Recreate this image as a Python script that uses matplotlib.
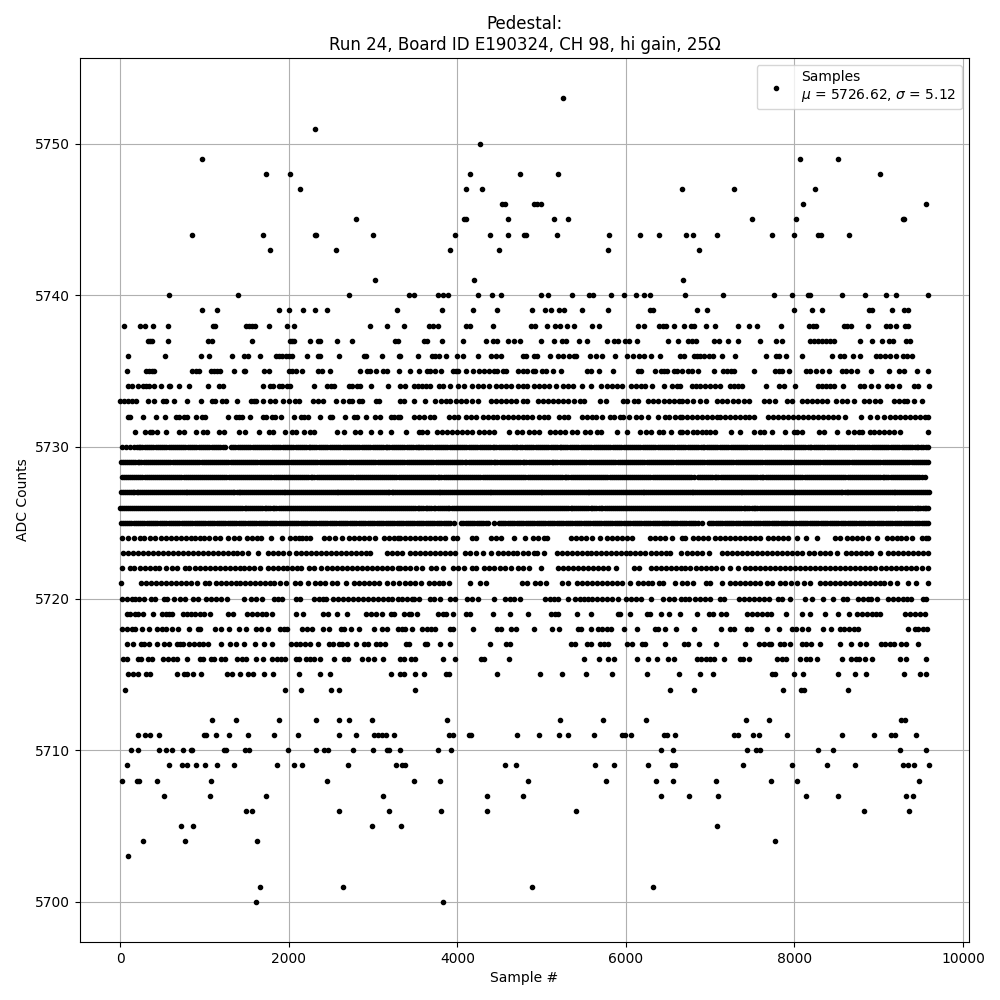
import matplotlib
matplotlib.use("Agg")
import matplotlib.pyplot as plt

# sample numbers, one list per ADC level
s5700 = [1604, 3824]
s5701 = [1652, 2637, 4880, 6317]
s5703 = [85]
s5704 = [263, 761, 1616, 7765]
s5705 = [714, 856, 2981, 3329, 7076]
s5706 = [1486, 1557, 2589, 3183, 3800, 4346, 5402, 8821, 9356]
s5707 = [512, 1058, 1734, 3112, 4346, 4773, 6411, 6744, 7088, 8133, 8513, 9320, 9403]
s5708 = [13, 191, 215, 429, 1070, 2447, 3479, 3788, 4833, 5759, 6352, 6554, 7064, 7717, 8026, 9474]
s5709 = [73, 571, 726, 785, 892, 999, 1141, 1343, 1853, 2055, 2150, 2696, 3266, 3341, 3376, 4560, 4690, 5628,
         5853, 6257, 6542, 6578, 7385, 7967, 8382, 8714, 9284, 9344, 9415, 9593]
s5710 = [120, 203, 453, 536, 607, 738, 832, 844, 1224, 1248, 1473, 1521, 1984, 2317, 2411, 2459, 2756, 2993,
         3159, 3183, 3321, 3764, 3930, 6411, 6554, 7432, 7539, 7587, 8275, 8453, 9249, 9557]
s5711 = [203, 286, 346, 464, 987, 1011, 1129, 1284, 1509, 1818, 2103, 2589, 2791, 3005, 3053, 3100, 3147, 3243,
         3895, 3942, 4132, 4156, 4702, 4963, 5201, 5307, 5616, 5948, 5984, 6055, 6447, 6483, 6578, 7278, 7326,
         7504, 7575, 7907, 8560, 8940, 9142, 9189, 9439]
s5712 = [1082, 1367, 1877, 2317, 2589, 2708, 2981, 3871, 5212, 5723, 6233, 7421, 7694, 9261, 9308]
s5714 = [49, 1948, 2138, 2495, 2589, 3491, 6518, 6803, 7860, 8073, 8109, 8631]
s5715 = [85, 144, 203, 298, 346, 666, 749, 796, 856, 951, 1260, 1319, 1414, 1509, 1569, 1710, 1806, 2115, 2364,
         2483, 3207, 3314, 3361, 3491, 3598, 3859, 3895, 4476, 4975, 5236, 5521, 5830, 6245, 6625, 6875, 7029,
         7729, 7773, 7990, 8097, 8513, 8714, 8845, 9296, 9486, 9557]
s5716 = [25, 73, 203, 239, 322, 370, 500, 559, 619, 666, 785, 939, 986, 1070, 1106, 1189, 1236, 1378, 1438, 1486,
         1604, 1687, 1794, 1853, 1901, 1948, 2079, 2115, 2198, 2245, 2293, 2364, 2530, 2649, 2696, 2862, 2934,
         3005, 3112, 3314, 3361, 3444, 3491, 3824, 3966, 4275, 4310, 4607, 5497, 5683, 5782, 5853, 6127, 6257,
         6364, 6494, 6566, 6839, 6886, 6946, 6993, 7041, 7159, 7349, 7385, 7456, 7789, 7848, 7895, 8062, 8133,
         8180, 8263, 8560, 8667, 8726, 8762, 8833, 8916, 9249, 9320, 9557]
s5717 = [73, 144, 239, 275, 334, 429, 512, 571, 666, 702, 738, 820, 868, 927, 986, 1034, 1189, 1295, 1367, 1462,
         1593, 1710, 1794, 2020, 2079, 2127, 2186, 2245, 2340, 2471, 2518, 2589, 2625, 2684, 2799, 2886, 2934,
         3029, 3076, 3135, 3384, 3420, 3610, 3645, 3788, 3907, 4382, 4571, 4619, 5343, 5391, 5533, 5580, 5687,
         5735, 5782, 6008, 6067, 6186, 6222, 6467, 6685, 6732, 6863, 7064, 7409, 7575, 7634, 7694, 7721, 7824,
         7872, 7943, 8085, 8133, 8192, 8299, 8536, 8667, 8774, 8845, 9023, 9071, 9130, 9178, 9261, 9320, 9462]
s5718 = [17, 77, 136, 176, 251, 334, 429, 488, 547, 607, 678, 820, 916, 939, 1118, 1189, 1284, 1402, 1486, 1604,
         1663, 1746, 1889, 1937, 1972, 2150, 2210, 2269, 2400, 2471, 2613, 2649, 2732, 2827, 3005, 3100, 3159,
         3290, 3341, 3380, 3467, 3574, 3645, 3681, 3729, 3907, 3942, 4191, 4465, 4512, 4631, 4690, 4904, 5117,
         5201, 5426, 5462, 5580, 5664, 5711, 5770, 5818, 5972, 6127, 6340, 6376, 6459, 6590, 6803, 7124, 7231,
         7278, 7432, 7480, 7670, 7812, 7967, 8014, 8085, 8157, 8335, 8430, 8536, 8584, 8643, 8703, 8750, 9344,
         9427, 9462, 9522, 9569]
s5719 = [77, 116, 176, 203, 263, 381, 488, 536, 571, 607, 738, 785, 840, 888, 947, 995, 1066, 1272, 1331, 1497,
         1557, 1616, 1675, 1734, 1794, 2079, 2162, 2400, 2459, 2566, 2684, 2910, 2969, 3029, 3100, 3207, 3243,
         3361, 3420, 3448, 3515, 3764, 3824, 3859, 3942, 4108, 4144, 4417, 4619, 4833, 5106, 5153, 5189, 5414,
         5580, 5901, 5925, 6043, 6245, 6281, 6411, 6506, 6637, 6839, 6981, 7029, 7124, 7183, 7432, 7492, 7551,
         7610, 7670, 7721, 7895, 8085, 8180, 8358, 8513, 8643, 8738, 8798, 8857, 8916, 8964, 9011, 9308, 9367,
         9427, 9486, 9546]
s5720 = [17, 77, 136, 176, 215, 275, 362, 405, 512, 552, 631, 702, 769, 860, 916, 1019, 1078, 1137, 1193, 1260,
         1462, 1549, 1608, 1680, 1827, 1869, 1917, 2079, 2127, 2301, 2352, 2400, 2443, 2522, 2578, 2637, 2696,
         2756, 2815, 2874, 2934, 2993, 3053, 3112, 3171, 3227, 3290, 3341, 3400, 3459, 3487, 3539, 3677, 3717,
         3788, 3915, 3974, 4112, 4172, 4239, 4429, 4567, 4619, 4666, 4738, 5042, 5094, 5141, 5189, 5307, 5399,
         5450, 5497, 5545, 5596, 5656, 5715, 5774, 5834, 5901, 6000, 6059, 6119, 6178, 6293, 6435, 6506, 6566,
         6649, 6696, 6744, 6823, 6882, 6942, 7001, 7112, 7159, 7337, 7397, 7456, 7516, 7575, 7634, 7694, 7800,
         7852, 7951, 8121, 8204, 8335, 8453, 8572, 8624, 8750, 8810, 8869, 8908, 8980, 9106, 9166, 9225, 9284,
         9336, 9379, 9522, 9557]
s5721 = [10, 243, 302, 362, 421, 480, 540, 599, 658, 718, 777, 836, 908, 1007, 1054, 1133, 1193, 1252, 1311, 1371,
         1422, 1477, 1537, 1596, 1656, 1715, 1774, 1826, 1889, 1960, 2075, 2134, 2222, 2305, 2364, 2431, 2510,
         2570, 2677, 2767, 2827, 2886, 2945, 3005, 3064, 3163, 3234, 3302, 3380, 3440, 3499, 3570, 3657, 3717,
         3776, 3835, 3899, 4144, 4271, 4342, 4765, 4824, 4924, 4983, 5050, 5240, 5311, 5418, 5478, 5537, 5596,
         5656, 5715, 5774, 5834, 5893, 5952, 6043, 6138, 6198, 6257, 6309, 6388, 6439, 6585, 6665, 6724, 6795,
         6954, 7001, 7136, 7239, 7298, 7357, 7417, 7476, 7535, 7595, 7674, 7737, 7832, 7884, 7959, 8030, 8117,
         8188, 8299, 8358, 8418, 8477, 8536, 8596, 8655, 8714, 8774, 8833, 8892, 8952, 9011, 9067, 9130, 9217,
         9344, 9447, 9581]
s5722 = [17, 108, 167, 227, 286, 346, 405, 464, 536, 611, 670, 769, 820, 880, 939, 999, 1058, 1118, 1177, 1236,
         1295, 1355, 1414, 1470, 1529, 1589, 1660, 1750, 1810, 1869, 1929, 1976, 2036, 2095, 2142, 2233, 2293,
         2380, 2451, 2510, 2570, 2629, 2688, 2748, 2807, 2866, 2926, 2985, 3045, 3104, 3163, 3223, 3290, 3321,
         3380, 3440, 3507, 3578, 3685, 3748, 3835, 3942, 4002, 4073, 4172, 4223, 4310, 4370, 4429, 4508, 4567,
         4635, 4714, 4773, 4844, 4987, 5193, 5252, 5311, 5371, 5430, 5489, 5549, 5608, 5667, 5727, 5782, 5877,
         6091, 6150, 6297, 6356, 6415, 6475, 6534, 6593, 6653, 6704, 6756, 6835, 6894, 6954, 7013, 7072, 7140,
         7231, 7326, 7417, 7476, 7535, 7595, 7654, 7713, 7773, 7832, 7891, 7951, 8010, 8070, 8129, 8188, 8248,
         8307, 8366, 8426, 8485, 8544, 8604, 8663, 8722, 8782, 8841, 8900, 8960, 9031, 9090, 9150, 9209, 9269,
         9328, 9387, 9447, 9514, 9589]
s5723 = [29, 89, 148, 207, 267, 326, 385, 445, 504, 563, 623, 682, 741, 801, 860, 919, 979, 1038, 1098, 1157, 1216,
         1276, 1335, 1383, 1438, 1509, 1632, 1750, 1810, 1869, 1929, 2000, 2083, 2142, 2202, 2261, 2321, 2380,
         2439, 2499, 2558, 2617, 2677, 2736, 2795, 2855, 2914, 2957, 3163, 3223, 3282, 3341, 3432, 3499, 3558,
         3618, 3677, 3736, 3796, 3855, 3915, 3974, 4093, 4152, 4223, 4302, 4397, 4480, 4540, 4599, 4658, 4706,
         4773, 4840, 4904, 4943, 5030, 5181, 5240, 5300, 5359, 5418, 5478, 5537, 5585, 5644, 5703, 5762, 5822,
         5881, 5941, 6000, 6051, 6111, 6170, 6229, 6297, 6356, 6415, 6475, 6518, 6653, 6724, 6784, 6843, 6902,
         6981, 7140, 7199, 7258, 7318, 7377, 7436, 7496, 7555, 7614, 7674, 7733, 7793, 7852, 7911, 7970, 8030,
         8089, 8168, 8228, 8307, 8366, 8426, 8505, 8616, 8675, 8734, 8794, 8853, 8912, 9019, 9114, 9174, 9233,
         9292, 9352, 9411, 9470, 9530, 9581]
s5724 = [17, 96, 156, 227, 275, 354, 413, 480, 540, 599, 658, 718, 777, 836, 884, 939, 991, 1054, 1121, 1185, 1280,
         1351, 1406, 1505, 1564, 1620, 1672, 1782, 1913, 2016, 2075, 2115, 2154, 2205, 2253, 2419, 2478, 2550,
         2629, 2708, 2767, 2827, 2886, 2945, 3017, 3124, 3183, 3243, 3290, 3321, 3380, 3440, 3499, 3558, 3618,
         3677, 3736, 3796, 3847, 3942, 3994, 4172, 4223, 4397, 4461, 4520, 4666, 4797, 4892, 4951, 5023, 5066,
         5347, 5406, 5466, 5525, 5596, 5695, 5774, 5834, 5893, 5952, 6012, 6071, 6289, 6348, 6407, 6467, 6546,
         6665, 6704, 6795, 6851, 6914, 6969, 7053, 7112, 7171, 7231, 7290, 7349, 7409, 7468, 7527, 7595, 7682,
         7741, 7800, 7860, 7919, 8034, 8137, 8271, 8477, 8536, 8624, 8683, 8742, 8802, 8869, 8980, 9098, 9158,
         9217, 9264, 9328, 9391, 9510, 9561, 9590]
s5725 = [3, 28, 52, 77, 101, 130, 158, 182, 206, 233, 259, 285, 311, 335, 358, 385, 412, 440, 467, 491, 515, 544, 572,
         597, 621, 645, 668, 698, 727, 750, 774, 802, 829, 855, 881, 907, 933, 955, 978, 1007, 1036, 1060, 1085, 1113,
         1142, 1167, 1191, 1218, 1246, 1272, 1298, 1324, 1349, 1376, 1403, 1428, 1452, 1481, 1511, 1535, 1558, 1585,
         1612, 1640, 1669, 1693, 1718, 1745, 1773, 1797, 1821, 1850, 1878, 1902, 1927, 1955, 1982, 2008, 2034, 2061,
         2088, 2113, 2139, 2165, 2191, 2219, 2247, 2271, 2296, 2324, 2352, 2380, 2401, 2430, 2458, 2484, 2509, 2536,
         2563, 2590, 2618, 2642, 2667, 2695, 2722, 2747, 2771, 2800, 2829, 2855, 2880, 2907, 2934, 2960, 2986, 3013,
         3041, 3066, 3092, 3120, 3148, 3172, 3197, 3225, 3253, 3279, 3304, 3331, 3359, 3385, 3411, 3436, 3462, 3490,
         3518, 3542, 3567, 3596, 3625, 3650, 3674, 3701, 3728, 3755, 3781, 3808, 3836, 3860, 3885, 3912, 3954, 4045,
         4071, 4098, 4125, 4151, 4177, 4203, 4231, 4259, 4283, 4308, 4336, 4365, 4440, 4490, 4516, 4543, 4570, 4598,
         4622, 4647, 4675, 4704, 4728, 4753, 4781, 4809, 4834, 4860, 4886, 4913, 4940, 4968, 4992, 5017, 5045, 5074,
         5098, 5123, 5151, 5180, 5204, 5229, 5257, 5286, 5311, 5337, 5364, 5391, 5417, 5443, 5470, 5497, 5522, 5548,
         5576, 5604, 5628, 5653, 5681, 5710, 5735, 5761, 5788, 5816, 5841, 5866, 5893, 5921, 5947, 5973, 6000, 6028,
         6053, 6079, 6107, 6135, 6159, 6184, 6212, 6241, 6266, 6292, 6319, 6347, 6372, 6398, 6425, 6452, 6478, 6505,
         6531, 6558, 6584, 6611, 6637, 6664, 6690, 6717, 6744, 6771, 6797, 6824, 6858, 6898, 6985, 7011, 7038, 7065,
         7092, 7117, 7143, 7171, 7199, 7224, 7250, 7277, 7304, 7330, 7357, 7386, 7411, 7436, 7462, 7490, 7518, 7542,
         7567, 7595, 7624, 7649, 7675, 7702, 7729, 7755, 7782, 7809, 7836, 7861, 7887, 7915, 7943, 7967, 7992, 8020,
         8049, 8074, 8100, 8127, 8155, 8180, 8206, 8233, 8261, 8286, 8312, 8340, 8368, 8392, 8417, 8445, 8474, 8498,
         8523, 8551, 8580, 8605, 8631, 8658, 8686, 8711, 8737, 8765, 8793, 8817, 8842, 8870, 8899, 8924, 8950, 8977,
         9005, 9030, 9056, 9083, 9111, 9136, 9162, 9190, 9218, 9243, 9269, 9296, 9324, 9349, 9375, 9402, 9430, 9455,
         9481, 9509, 9537, 9563, 9590]
s5726 = [1, 22, 44, 68, 92, 114, 137, 162, 188, 209, 231, 256, 282, 304, 326, 351, 377, 399, 421, 446, 472, 495, 518,
         541, 565, 589, 613, 635, 658, 683, 709, 731, 754, 778, 803, 826, 849, 873, 898, 922, 947, 969, 992, 1017, 1043,
         1065, 1088, 1112, 1137, 1160, 1184, 1207, 1231, 1256, 1281, 1303, 1326, 1351, 1377, 1399, 1422, 1447, 1473,
         1495, 1518, 1542, 1567, 1590, 1614, 1637, 1662, 1686, 1711, 1733, 1756, 1781, 1807, 1829, 1852, 1877, 1903,
         1925, 1948, 1972, 1997, 2020, 2044, 2068, 2092, 2116, 2141, 2163, 2186, 2211, 2237, 2259, 2282, 2307, 2333,
         2355, 2378, 2402, 2427, 2450, 2474, 2498, 2522, 2546, 2571, 2593, 2616, 2641, 2667, 2689, 2712, 2737, 2763,
         2785, 2808, 2832, 2857, 2880, 2904, 2928, 2952, 2976, 3001, 3023, 3046, 3071, 3097, 3119, 3142, 3165, 3193,
         3215, 3238, 3262, 3287, 3310, 3334, 3358, 3382, 3406, 3431, 3453, 3476, 3501, 3527, 3549, 3572, 3597, 3623,
         3645, 3668, 3692, 3717, 3740, 3764, 3788, 3812, 3836, 3861, 3883, 3906, 3931, 3957, 3979, 4002, 4027, 4053,
         4075, 4098, 4122, 4147, 4170, 4194, 4218, 4242, 4266, 4291, 4313, 4336, 4361, 4387, 4409, 4432, 4457, 4483,
         4505, 4528, 4552, 4577, 4600, 4624, 4648, 4672, 4696, 4721, 4743, 4766, 4791, 4817, 4839, 4862, 4887, 4913,
         4935, 4958, 4982, 5007, 5030, 5054, 5078, 5102, 5126, 5151, 5173, 5196, 5221, 5247, 5269, 5292, 5317, 5343,
         5365, 5388, 5412, 5437, 5460, 5484, 5508, 5532, 5556, 5581, 5603, 5626, 5651, 5677, 5699, 5722, 5747, 5773,
         5795, 5818, 5842, 5867, 5890, 5914, 5938, 5962, 5986, 6011, 6033, 6056, 6081, 6107, 6129, 6152, 6177, 6203,
         6225, 6248, 6272, 6297, 6320, 6344, 6368, 6392, 6416, 6441, 6463, 6486, 6511, 6537, 6559, 6582, 6607, 6633,
         6655, 6678, 6702, 6727, 6750, 6774, 6798, 6822, 6846, 6871, 6893, 6916, 6941, 6967, 6989, 7012, 7037, 7063,
         7085, 7108, 7132, 7157, 7180, 7204, 7228, 7252, 7276, 7301, 7323, 7346, 7371, 7397, 7419, 7442, 7467, 7493,
         7515, 7538, 7562, 7587, 7610, 7634, 7658, 7682, 7706, 7731, 7753, 7776, 7801, 7827, 7849, 7872, 7897, 7923,
         7945, 7968, 7992, 8017, 8040, 8064, 8088, 8112, 8136, 8161, 8183, 8206, 8231, 8257, 8279, 8302, 8327, 8353,
         8375, 8398, 8422, 8447, 8470, 8494, 8518, 8542, 8566, 8591, 8613, 8636, 8661, 8687, 8709, 8732, 8757, 8783,
         8805, 8828, 8852, 8877, 8900, 8924, 8948, 8972, 8996, 9021, 9043, 9066, 9091, 9117, 9139, 9162, 9187, 9213,
         9235, 9258, 9282, 9307, 9330, 9354, 9378, 9402, 9426, 9451, 9473, 9496, 9521, 9547, 9568, 9590]
s5727 = [7, 29, 51, 74, 98, 121, 144, 167, 191, 214, 238, 260, 283, 307, 331, 353, 376, 400, 424, 446, 469, 493, 517,
         540, 563, 586, 609, 633, 657, 679, 702, 726, 750, 773, 796, 819, 842, 866, 889, 912, 936, 959, 983, 1005, 1028,
         1052, 1076, 1098, 1121, 1145, 1169, 1191, 1214, 1238, 1262, 1285, 1308, 1331, 1354, 1378, 1402, 1424, 1447,
         1471, 1495, 1518, 1541, 1564, 1587, 1610, 1634, 1657, 1681, 1704, 1728, 1750, 1773, 1797, 1821, 1843, 1866,
         1890, 1914, 1936, 1959, 1983, 2007, 2030, 2053, 2076, 2099, 2123, 2147, 2169, 2192, 2216, 2240, 2263, 2286,
         2309, 2332, 2355, 2379, 2402, 2426, 2449, 2473, 2495, 2518, 2542, 2566, 2588, 2611, 2635, 2659, 2681, 2704,
         2728, 2752, 2775, 2798, 2821, 2844, 2868, 2892, 2914, 2937, 2961, 2985, 3008, 3031, 3054, 3077, 3100, 3124,
         3147, 3171, 3194, 3218, 3240, 3263, 3287, 3311, 3333, 3356, 3380, 3404, 3426, 3449, 3473, 3497, 3520, 3543,
         3566, 3589, 3613, 3637, 3659, 3682, 3706, 3730, 3753, 3776, 3799, 3822, 3845, 3869, 3892, 3916, 3939, 3963,
         3985, 4008, 4032, 4056, 4078, 4101, 4125, 4149, 4171, 4194, 4218, 4242, 4265, 4288, 4311, 4334, 4358, 4382,
         4404, 4427, 4451, 4475, 4498, 4521, 4544, 4567, 4590, 4614, 4637, 4661, 4684, 4708, 4730, 4753, 4777, 4801,
         4823, 4846, 4870, 4894, 4916, 4939, 4963, 4987, 5010, 5033, 5056, 5079, 5103, 5127, 5149, 5172, 5196, 5220,
         5243, 5266, 5289, 5312, 5335, 5359, 5382, 5406, 5429, 5453, 5475, 5498, 5522, 5546, 5568, 5591, 5615, 5639,
         5661, 5684, 5708, 5732, 5755, 5778, 5801, 5824, 5848, 5872, 5894, 5917, 5941, 5965, 5988, 6011, 6034, 6057,
         6080, 6104, 6127, 6151, 6174, 6198, 6220, 6243, 6267, 6291, 6313, 6336, 6360, 6384, 6406, 6429, 6453, 6477,
         6500, 6523, 6546, 6569, 6593, 6617, 6639, 6662, 6686, 6710, 6733, 6756, 6779, 6802, 6825, 6849, 6872, 6896,
         6919, 6943, 6965, 6988, 7012, 7036, 7058, 7081, 7105, 7129, 7151, 7174, 7198, 7222, 7245, 7268, 7291, 7314,
         7338, 7362, 7384, 7407, 7431, 7455, 7478, 7501, 7524, 7547, 7570, 7594, 7617, 7641, 7664, 7688, 7710, 7733,
         7757, 7781, 7803, 7826, 7850, 7874, 7896, 7919, 7943, 7967, 7990, 8013, 8036, 8059, 8083, 8107, 8129, 8152,
         8176, 8200, 8223, 8246, 8269, 8292, 8315, 8339, 8362, 8386, 8409, 8433, 8455, 8478, 8502, 8526, 8548, 8571,
         8595, 8619, 8641, 8664, 8688, 8712, 8735, 8758, 8781, 8804, 8828, 8852, 8874, 8897, 8921, 8945, 8968, 8991,
         9014, 9037, 9060, 9084, 9107, 9131, 9154, 9178, 9200, 9223, 9247, 9271, 9293, 9316, 9340, 9364, 9386, 9409,
         9433, 9457, 9480, 9503, 9526, 9549, 9571, 9592]
s5728 = [18, 42, 66, 91, 117, 140, 163, 188, 214, 238, 262, 286, 311, 334, 358, 382, 406, 431, 457, 480, 503, 528, 554,
         577, 601, 626, 652, 675, 698, 723, 749, 773, 797, 821, 846, 869, 893, 917, 941, 966, 992, 1015, 1038, 1063,
         1089, 1112, 1136, 1161, 1187, 1210, 1233, 1258, 1284, 1308, 1332, 1356, 1381, 1404, 1428, 1452, 1476, 1501,
         1527, 1550, 1573, 1598, 1624, 1647, 1671, 1696, 1722, 1745, 1768, 1793, 1819, 1843, 1867, 1891, 1916, 1939,
         1963, 1987, 2011, 2036, 2062, 2085, 2108, 2133, 2159, 2182, 2206, 2231, 2257, 2280, 2303, 2328, 2354, 2378,
         2402, 2426, 2451, 2474, 2498, 2522, 2546, 2571, 2597, 2620, 2643, 2668, 2694, 2717, 2741, 2766, 2792, 2815,
         2838, 2863, 2889, 2913, 2937, 2961, 2986, 3009, 3033, 3057, 3081, 3106, 3132, 3155, 3178, 3203, 3229, 3252,
         3276, 3301, 3327, 3350, 3373, 3398, 3424, 3448, 3472, 3496, 3521, 3544, 3568, 3592, 3616, 3641, 3667, 3690,
         3713, 3738, 3764, 3787, 3811, 3836, 3862, 3885, 3908, 3933, 3959, 3983, 4007, 4031, 4056, 4079, 4103, 4127,
         4151, 4176, 4202, 4225, 4248, 4273, 4299, 4322, 4346, 4371, 4397, 4420, 4443, 4468, 4494, 4518, 4542, 4566,
         4591, 4614, 4638, 4662, 4686, 4711, 4737, 4760, 4783, 4808, 4834, 4857, 4881, 4906, 4932, 4955, 4978, 5003,
         5029, 5053, 5077, 5101, 5126, 5149, 5173, 5197, 5221, 5246, 5272, 5295, 5318, 5343, 5369, 5392, 5416, 5441,
         5467, 5490, 5513, 5538, 5564, 5588, 5612, 5636, 5661, 5684, 5708, 5732, 5756, 5781, 5807, 5830, 5853, 5878,
         5904, 5927, 5951, 5976, 6002, 6025, 6048, 6073, 6099, 6123, 6147, 6171, 6196, 6219, 6243, 6267, 6291, 6316,
         6342, 6365, 6388, 6413, 6439, 6462, 6486, 6511, 6537, 6560, 6583, 6608, 6634, 6658, 6682, 6706, 6731, 6754,
         6778, 6811, 6854, 6880, 6906, 6929, 6953, 6977, 7001, 7026, 7052, 7075, 7098, 7123, 7149, 7172, 7196, 7221,
         7247, 7270, 7293, 7318, 7344, 7368, 7392, 7416, 7441, 7464, 7488, 7512, 7536, 7561, 7587, 7610, 7633, 7658,
         7684, 7707, 7731, 7756, 7782, 7805, 7828, 7853, 7879, 7903, 7927, 7951, 7976, 7999, 8023, 8047, 8071, 8096,
         8122, 8145, 8168, 8193, 8219, 8242, 8266, 8291, 8317, 8340, 8363, 8388, 8414, 8438, 8462, 8486, 8511, 8534,
         8558, 8582, 8606, 8631, 8657, 8680, 8703, 8728, 8754, 8777, 8801, 8826, 8852, 8875, 8898, 8923, 8949, 8973,
         8997, 9021, 9046, 9069, 9093, 9117, 9141, 9166, 9192, 9215, 9238, 9263, 9289, 9312, 9336, 9361, 9387, 9410,
         9433, 9458, 9484, 9516, 9548]
s5729 = [6, 29, 53, 78, 104, 127, 151, 177, 203, 226, 249, 275, 301, 324, 348, 372, 397, 422, 448, 471, 495, 521, 547,
         570, 593, 619, 645, 668, 692, 716, 741, 766, 792, 815, 839, 865, 891, 914, 937, 963, 989, 1012, 1036, 1060,
         1085, 1110, 1136, 1159, 1183, 1209, 1235, 1258, 1281, 1307, 1333, 1356, 1380, 1404, 1429, 1454, 1480, 1503,
         1527, 1553, 1579, 1602, 1625, 1651, 1677, 1700, 1724, 1748, 1773, 1798, 1824, 1847, 1871, 1897, 1923, 1946,
         1969, 1995, 2021, 2044, 2068, 2092, 2117, 2142, 2168, 2191, 2215, 2241, 2267, 2290, 2313, 2339, 2365, 2388,
         2412, 2436, 2461, 2486, 2512, 2535, 2559, 2585, 2611, 2634, 2657, 2683, 2709, 2732, 2756, 2780, 2805, 2830,
         2856, 2879, 2903, 2929, 2955, 2978, 3001, 3027, 3053, 3076, 3100, 3124, 3149, 3174, 3200, 3223, 3247, 3273,
         3299, 3322, 3345, 3371, 3397, 3420, 3444, 3468, 3493, 3518, 3544, 3567, 3591, 3617, 3643, 3666, 3689, 3715,
         3741, 3764, 3788, 3812, 3837, 3862, 3888, 3911, 3935, 3961, 3987, 4010, 4033, 4059, 4085, 4108, 4132, 4156,
         4181, 4206, 4232, 4255, 4279, 4305, 4331, 4354, 4377, 4403, 4429, 4452, 4476, 4500, 4525, 4550, 4576, 4599,
         4623, 4649, 4675, 4698, 4721, 4747, 4773, 4796, 4820, 4844, 4869, 4894, 4920, 4943, 4967, 4993, 5019, 5042,
         5065, 5091, 5117, 5140, 5164, 5188, 5213, 5238, 5264, 5287, 5311, 5337, 5363, 5386, 5409, 5435, 5461, 5484,
         5508, 5532, 5557, 5582, 5608, 5631, 5655, 5681, 5707, 5730, 5753, 5779, 5805, 5828, 5852, 5876, 5901, 5926,
         5952, 5975, 5999, 6025, 6051, 6074, 6097, 6123, 6149, 6172, 6196, 6220, 6245, 6270, 6296, 6319, 6343, 6369,
         6395, 6418, 6441, 6467, 6493, 6516, 6540, 6564, 6589, 6614, 6640, 6663, 6687, 6713, 6739, 6762, 6785, 6811,
         6837, 6860, 6884, 6908, 6933, 6958, 6984, 7007, 7031, 7057, 7083, 7106, 7129, 7155, 7181, 7204, 7228, 7252,
         7277, 7302, 7328, 7351, 7375, 7401, 7427, 7450, 7473, 7499, 7525, 7548, 7572, 7596, 7621, 7646, 7672, 7695,
         7719, 7745, 7771, 7794, 7817, 7843, 7869, 7892, 7916, 7940, 7965, 7990, 8016, 8039, 8063, 8089, 8115, 8138,
         8161, 8187, 8213, 8236, 8260, 8284, 8309, 8334, 8360, 8383, 8407, 8433, 8459, 8482, 8505, 8531, 8557, 8580,
         8604, 8628, 8653, 8678, 8704, 8727, 8751, 8777, 8803, 8826, 8849, 8875, 8901, 8924, 8948, 8972, 8997, 9022,
         9048, 9071, 9095, 9121, 9147, 9170, 9193, 9219, 9245, 9268, 9292, 9316, 9341, 9366, 9392, 9415, 9439, 9465,
         9491, 9514, 9537, 9561, 9585]
s5730 = [18, 61, 108, 167, 192, 216, 238, 261, 290, 318, 340, 363, 392, 421, 444, 468, 492, 516, 545, 574, 596, 619,
         648, 677, 700, 722, 746, 771, 800, 829, 851, 874, 903, 932, 954, 977, 1001, 1026, 1055, 1084, 1106, 1129, 1158,
         1187, 1212, 1237, 1315, 1338, 1362, 1390, 1419, 1442, 1466, 1489, 1513, 1542, 1571, 1594, 1617, 1645, 1674,
         1697, 1720, 1744, 1768, 1797, 1826, 1849, 1872, 1900, 1929, 1952, 1975, 1998, 2022, 2051, 2081, 2106, 2132,
         2154, 2176, 2204, 2233, 2256, 2279, 2302, 2326, 2355, 2384, 2407, 2430, 2458, 2487, 2510, 2533, 2556, 2580,
         2609, 2638, 2661, 2684, 2712, 2741, 2764, 2787, 2811, 2835, 2864, 2893, 2915, 2938, 2967, 2996, 3019, 3042,
         3065, 3089, 3118, 3147, 3169, 3192, 3221, 3250, 3273, 3296, 3319, 3343, 3372, 3401, 3423, 3446, 3475, 3504,
         3527, 3550, 3573, 3597, 3626, 3655, 3678, 3701, 3729, 3758, 3781, 3804, 3827, 3851, 3880, 3909, 3932, 3955,
         3983, 4012, 4035, 4058, 4081, 4105, 4134, 4163, 4186, 4209, 4237, 4266, 4289, 4312, 4335, 4359, 4388, 4417,
         4440, 4463, 4491, 4520, 4543, 4567, 4590, 4614, 4643, 4672, 4692, 4712, 4748, 4772, 4797, 4826, 4855, 4878,
         4901, 4929, 4958, 4981, 5004, 5027, 5051, 5080, 5109, 5132, 5155, 5183, 5212, 5235, 5258, 5281, 5305, 5334,
         5363, 5386, 5409, 5437, 5466, 5489, 5512, 5535, 5559, 5588, 5617, 5640, 5663, 5691, 5720, 5743, 5766, 5789,
         5813, 5842, 5871, 5894, 5917, 5945, 5974, 5997, 6020, 6043, 6067, 6096, 6125, 6148, 6171, 6199, 6228, 6251,
         6274, 6297, 6321, 6350, 6379, 6402, 6425, 6453, 6482, 6505, 6528, 6551, 6575, 6604, 6633, 6656, 6679, 6707,
         6736, 6759, 6782, 6805, 6829, 6858, 6887, 6910, 6933, 6961, 6990, 7013, 7036, 7059, 7083, 7112, 7141, 7164,
         7187, 7215, 7244, 7267, 7290, 7313, 7337, 7366, 7395, 7418, 7441, 7469, 7498, 7521, 7544, 7567, 7591, 7620,
         7649, 7672, 7695, 7723, 7752, 7775, 7798, 7821, 7845, 7874, 7903, 7926, 7949, 7977, 8006, 8029, 8052, 8075,
         8099, 8128, 8157, 8180, 8203, 8231, 8260, 8283, 8306, 8329, 8353, 8382, 8411, 8434, 8457, 8485, 8514, 8537,
         8560, 8583, 8607, 8636, 8665, 8688, 8711, 8739, 8768, 8791, 8814, 8837, 8861, 8890, 8919, 8942, 8965, 8993,
         9022, 9045, 9068, 9091, 9115, 9144, 9173, 9196, 9219, 9247, 9276, 9299, 9322, 9345, 9369, 9398, 9427, 9450,
         9473, 9501, 9530, 9560, 9590]
s5731 = [168, 286, 346, 370, 440, 536, 690, 749, 892, 986, 1026, 1165, 1224, 1402, 1473, 1640, 1758, 1806, 1948,
         2032, 2079, 2174, 2245, 2293, 2566, 2649, 2779, 2839, 2969, 3076, 3207, 3384, 3539, 3578, 3638, 3756,
         3816, 3875, 3934, 3994, 4053, 4112, 4172, 4251, 4310, 4370, 4429, 4607, 4706, 4765, 4844, 4904, 4963,
         5102, 5161, 5220, 5280, 5359, 5418, 5517, 5577, 5656, 5707, 5893, 6008, 6162, 6241, 6297, 6388, 6439,
         6530, 6645, 6665, 6724, 6795, 6843, 6902, 6954, 7001, 7060, 7250, 7349, 7523, 7595, 7634, 7729, 7884,
         7990, 8030, 8089, 8287, 8346, 8501, 8631, 8711, 8762, 8802, 8893, 8940, 9000, 9059, 9118, 9178, 9249,
         9581]
s5732 = [85, 108, 263, 417, 524, 654, 690, 749, 785, 892, 963, 999, 1280, 1367, 1402, 1438, 1533, 1698, 1734, 1794,
         1830, 1901, 2055, 2138, 2174, 2222, 2364, 2483, 2507, 2660, 2767, 2803, 2910, 3017, 3076, 3207, 3243,
         3290, 3321, 3479, 3539, 3598, 3669, 3717, 3895, 3954, 4013, 4097, 4156, 4215, 4298, 4358, 4417, 4476,
         4536, 4595, 4655, 4714, 4773, 4832, 4880, 4963, 5023, 5070, 5201, 5260, 5307, 5474, 5533, 5592, 5651,
         5711, 5806, 5853, 5925, 5960, 6032, 6115, 6174, 6257, 6376, 6459, 6506, 6578, 6637, 6665, 6724, 6784,
         6843, 6902, 6961, 7021, 7080, 7120, 7180, 7239, 7298, 7357, 7417, 7456, 7523, 7688, 7747, 7807, 7866,
         7925, 7985, 8044, 8103, 8163, 8222, 8281, 8341, 8400, 8460, 8519, 8604, 8794, 8900, 8980, 9059, 9138,
         9198, 9257, 9317, 9376, 9436, 9495, 9555, 9585]
s5733 = [0, 37, 85, 140, 180, 322, 393, 500, 547, 642, 796, 951, 1082, 1118, 1200, 1248, 1378, 1545, 1580, 1604,
         1687, 1770, 1830, 1925, 1996, 2067, 2115, 2281, 2340, 2400, 2554, 2637, 2708, 2744, 2827, 2862, 3029,
         3064, 3321, 3372, 3479, 3610, 3740, 3800, 3859, 3918, 3978, 4037, 4097, 4168, 4239, 4393, 4453, 4512,
         4571, 4631, 4690, 4773, 4832, 4951, 5011, 5070, 5129, 5189, 5248, 5307, 5379, 5450, 5497, 5687, 5759,
         5960, 6012, 6091, 6138, 6257, 6317, 6376, 6447, 6506, 6566, 6625, 6665, 6724, 6795, 6882, 6954, 7080,
         7140, 7199, 7266, 7326, 7397, 7456, 7634, 7694, 7773, 7911, 7970, 8089, 8148, 8208, 8267, 8327, 8386,
         8497, 8564, 8624, 8703, 8821, 8881, 8960, 9019, 9178, 9237, 9296, 9336, 9415, 9514]
s5734 = [85, 132, 203, 263, 298, 334, 393, 476, 571, 587, 694, 820, 1034, 1165, 1212, 1698, 1770, 1806, 1877, 1913,
         1972, 2008, 2293, 2447, 2495, 2530, 2708, 2744, 2803, 2839, 2969, 3171, 3314, 3380, 3479, 3527, 3574,
         3622, 3677, 3776, 3835, 3907, 4002, 4073, 4168, 4239, 4298, 4370, 4453, 4512, 4571, 4631, 4714, 4773,
         4832, 4904, 4963, 5023, 5082, 5165, 5248, 5307, 5367, 5474, 5580, 5699, 5770, 5830, 5889, 5949, 6055,
         6115, 6174, 6222, 6305, 6447, 6542, 6601, 6645, 6780, 6835, 6882, 6942, 7001, 7060, 7120, 7231, 7278,
         7326, 7377, 7666, 7812, 7872, 8002, 8275, 8323, 8370, 8418, 8465, 8572, 8774, 8821, 8904, 8988, 9094,
         9154, 9237, 9415, 9462, 9593]
s5735 = [73, 298, 334, 370, 393, 844, 892, 927, 1070, 1106, 1141, 1177, 1343, 1462, 1475, 1710, 1758, 1996, 2032,
         2079, 2150, 2340, 2388, 2483, 2839, 2922, 2957, 3029, 3112, 3159, 3302, 3432, 3539, 3645, 3669, 3729,
         3800, 3942, 3978, 4013, 4097, 4180, 4251, 4310, 4370, 4429, 4469, 4536, 4571, 4714, 4773, 4832, 4892,
         4927, 4999, 5046, 5129, 5224, 5533, 5580, 5675, 5842, 6138, 6174, 6340, 6411, 6447, 6483, 6566, 6601,
         6665, 6732, 6780, 6851, 7041, 7148, 7199, 7246, 7278, 7516, 7765, 7812, 7848, 7931, 8133, 8180, 8252,
         8323, 8406, 8560, 8608, 8667, 8738, 8904, 9118, 9237, 9296, 9454, 9581]
s5736 = [96, 524, 951, 1046, 1319, 1462, 1509, 1651, 1841, 1877, 1913, 1960, 1996, 2032, 2210, 2340, 2364, 2589,
         2886, 2910, 3100, 3302, 3321, 3527, 3693, 3729, 3776, 3859, 3990, 4061, 4239, 4393, 4453, 4512, 4773,
         4809, 4904, 4939, 5094, 5189, 5248, 5319, 5379, 5402, 5569, 5640, 5711, 5865, 6008, 6079, 6150, 6210,
         6293, 6400, 6637, 6685, 6803, 6843, 6882, 6930, 6981, 7029, 7136, 7290, 7658, 7777, 7812, 7895, 8085,
         8441, 8536, 8584, 8691, 8774, 8964, 9019, 9071, 9130, 9201, 9284, 9336, 9391]
s5737 = [322, 346, 370, 559, 1034, 1082, 1557, 2008, 2032, 2055, 2245, 2340, 2364, 2566, 2744, 3254, 3290, 3598,
         3634, 3812, 4061, 4334, 4417, 4465, 4595, 4666, 4749, 4987, 5141, 5236, 5284, 5438, 5533, 5770, 5853,
         5901, 5984, 6032, 6127, 6494, 6613, 6732, 6780, 6827, 7041, 7100, 7207, 7326, 7587, 7777, 7848, 8180,
         8228, 8275, 8323, 8370, 8418, 8465, 8774, 8916, 9035, 9118, 9166, 9320, 9367]
s5738 = [37, 227, 286, 381, 559, 1094, 1118, 1488, 1523, 1559, 1595, 1758, 1972, 2055, 2957, 3159, 3372, 3657, 3705,
         3764, 4097, 4144, 4417, 4868, 4916, 5058, 5153, 5212, 5296, 5379, 5592, 5675, 6138, 6210, 6388, 6435,
         6471, 6566, 6685, 6768, 6803, 6946, 7053, 7326, 7456, 7551, 7836, 8168, 8216, 8252, 8584, 8624, 8667,
         8869, 9082, 9130, 9201, 9308, 9344]
s5739 = [963, 1141, 1877, 1996, 2162, 2305, 2447, 3278, 3812, 4180, 4476, 4880, 5034, 5106, 5201, 5260, 5474, 5782,
         6281, 6317, 6839, 6958, 7990, 8204, 8323, 8881, 8916, 9154, 9296, 9344]
s5740 = [571, 1390, 2708, 3420, 3479, 3764, 3835, 3883, 4239, 4405, 4512, 4987, 5070, 5355, 5557, 5604, 5818, 5972,
         6115, 6210, 6281, 6696, 7148, 7753, 7967, 8157, 8180, 8560, 8833, 9082, 9201, 9581]
s5741 = [3017, 4203, 6673]
s5743 = [1770, 2554, 3907, 4488, 5782, 6863]
s5744 = [844, 1687, 2311, 2325, 2993, 3966, 4382, 4595, 4785, 4820, 5177, 5794, 6162, 6388, 6708, 6791, 7076, 7729,
         7990, 8275, 8311, 8643]
s5745 = [2791, 4073, 4097, 4595, 5141, 5307, 7492, 8014, 9292, 9304]
s5746 = [4524, 4560, 4904, 4939, 4987, 8097, 9557]
s5747 = [2126, 4097, 4287, 6661, 7278, 8240]
s5748 = [1723, 2008, 4144, 4738, 5189, 9011]
s5749 = [963, 8062, 8513]
s5750 = [4263]
s5751 = [2305]
s5753 = [5256]

levels = [5700, 5701, 5703, 5704, 5705, 5706, 5707, 5708, 5709, 5710, 5711, 5712, 5714, 5715, 5716, 5717, 5718,
          5719, 5720, 5721, 5722, 5723, 5724, 5725, 5726, 5727, 5728, 5729, 5730, 5731, 5732, 5733, 5734, 5735,
          5736, 5737, 5738, 5739, 5740, 5741, 5743, 5744, 5745, 5746, 5747, 5748, 5749, 5750, 5751, 5753]
rows = [s5700, s5701, s5703, s5704, s5705, s5706, s5707, s5708, s5709, s5710, s5711, s5712, s5714, s5715, s5716,
        s5717, s5718, s5719, s5720, s5721, s5722, s5723, s5724, s5725, s5726, s5727, s5728, s5729, s5730, s5731,
        s5732, s5733, s5734, s5735, s5736, s5737, s5738, s5739, s5740, s5741, s5743, s5744, s5745, s5746, s5747,
        s5748, s5749, s5750, s5751, s5753]

x = []
y = []
for level, row in zip(levels, rows):
    x += row
    y += [level] * len(row)

fig = plt.figure(figsize=(10, 10))
plt.plot(x, y, "k.", label="Samples\n$\\mu$ = 5726.62, $\\sigma$ = 5.12")
plt.xlabel("Sample #")
plt.ylabel("ADC Counts")
plt.title("Pedestal:\nRun 24, Board ID E190324, CH 98, hi gain, 25Ω")
plt.grid(True)
plt.legend(loc="upper right")
plt.subplots_adjust(left=0.08, right=0.969, top=0.942, bottom=0.058)
plt.savefig("out.png", dpi=100)
